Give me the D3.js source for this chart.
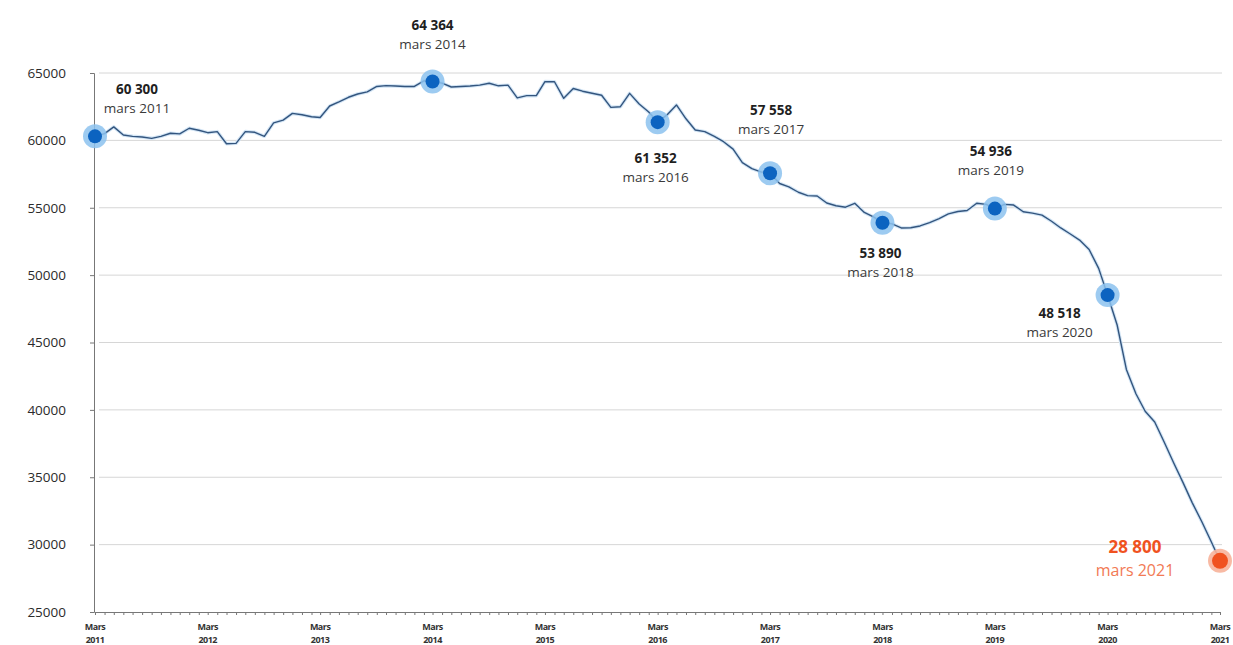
<!DOCTYPE html>
<html>
<head>
<meta charset="utf-8">
<script src="https://cdn.jsdelivr.net/npm/d3@7"></script>
<style>
  body { margin: 0; background: #fff; }
  .chart text { font-family: "Open Sans", "DejaVu Sans", sans-serif; }
</style>
</head>
<body>
<div class="chart"></div>
<script>
// Data: monthly values, mars 2011 -> mars 2021
var startYear = 2011;
var startMonth = 2; // mars
var values = [
  60300, 60500, 61000, 60400, 60300, 60250, 60150, 60300, 60530, 60480, 60900, 60750,
  60570, 60650, 59750, 59780, 60650, 60600, 60300, 61300, 61500, 62000, 61900, 61750,
  61700, 62550, 62850, 63200, 63440, 63600, 64000, 64060, 64030, 64000, 64000, 64420,
  64364, 64250, 63960, 64000, 64040, 64100, 64240, 64050, 64100, 63150, 63320, 63320,
  64360, 64350, 63120, 63850, 63650, 63500, 63350, 62450, 62500, 63490, 62700, 62100,
  61352, 61900, 62630, 61600, 60770, 60650, 60300, 59900, 59350, 58350, 57900, 57650,
  57558, 56800, 56550, 56150, 55900, 55870, 55350, 55150, 55040, 55330, 54650, 54300,
  53890, 53800, 53500, 53520, 53650, 53900, 54200, 54550, 54720, 54800, 55330, 55250,
  54936, 55250, 55200, 54700, 54600, 54450, 54000, 53500, 53050, 52600, 51900, 50500,
  48518, 46300, 43000, 41200, 39900, 39100, 37600, 36100, 34600, 33100, 31700, 30200,
  28800
];
var yTicks = [25000, 30000, 35000, 40000, 45000, 50000, 55000, 60000, 65000];
var xLabelYears = [2011, 2012, 2013, 2014, 2015, 2016, 2017, 2018, 2019, 2020, 2021];

// Highlighted points (index in values), with label text
var annotIndex = [0, 36, 60, 72, 84, 96, 108];
var annotNumber = ["60 300", "64 364", "61 352", "57 558", "53 890", "54 936", "48 518"];
var annotMonth = ["mars 2011", "mars 2014", "mars 2016", "mars 2017", "mars 2018", "mars 2019", "mars 2020"];
var lastNumber = "28 800";
var lastMonth = "mars 2021";

var data = values.map((v, i) => ({date: new Date(startYear, startMonth + i, 1), value: v}));

// Layout
var svgWidth = 1233, svgHeight = 645;
var x0 = 95, x1 = 1220, yTop = 73, yBottom = 612;

var svg = d3.select(".chart").append("svg")
  .attr("width", svgWidth)
  .attr("height", svgHeight);

var xScale = d3.scaleTime()
  .domain([data[0].date, data[data.length - 1].date])
  .range([x0, x1]);
var yScale = d3.scaleLinear()
  .domain([25000, 65000])
  .range([yBottom, yTop]);

// Gridlines
svg.append("g").selectAll("line")
  .data(yTicks.filter(t => t > 25000))
  .enter().append("line")
  .attr("x1", x0 + 4).attr("x2", x1 + 2)
  .attr("y1", d => yScale(d)).attr("y2", d => yScale(d))
  .attr("stroke", "#d6d6d6")
  .attr("stroke-width", 1);

// Y axis
var leftAxis = d3.axisLeft(yScale)
  .tickValues(yTicks)
  .tickFormat(d3.format("d"))
  .tickSize(4)
  .tickPadding(24);
var yAxisG = svg.append("g")
  .attr("transform", `translate(${x0 - 1},0)`)
  .call(leftAxis);
yAxisG.select(".domain").attr("stroke", "#777");
yAxisG.selectAll(".tick line").attr("stroke", "#777");
yAxisG.selectAll(".tick text")
  .attr("fill", "#2b2b2b")
  .style("font-size", "13.5px");

// X axis, one tick per month
var bottomAxis = d3.axisBottom(xScale)
  .ticks(d3.timeMonth.every(1))
  .tickSize(3)
  .tickSizeOuter(0)
  .tickFormat("");
var xAxisG = svg.append("g")
  .attr("transform", `translate(0,${yBottom})`)
  .call(bottomAxis);
xAxisG.select(".domain").attr("stroke", "#777");
xAxisG.selectAll(".tick line").attr("stroke", "#777");

// X labels at each March
var xLab = svg.append("g").selectAll("text")
  .data(xLabelYears)
  .enter().append("text")
  .attr("text-anchor", "middle")
  .attr("fill", "#333")
  .style("font-size", "9px")
  .style("font-weight", "bold")
  .style("letter-spacing", "-0.5px");
xLab.append("tspan")
  .attr("x", d => xScale(new Date(d, startMonth, 1)))
  .attr("y", 630)
  .text("Mars");
xLab.append("tspan")
  .attr("x", d => xScale(new Date(d, startMonth, 1)))
  .attr("y", 643)
  .text(d => d);

// Line
var line = d3.line()
  .x(d => xScale(d.date))
  .y(d => yScale(d.value));
svg.append("path")
  .datum(data)
  .attr("d", line)
  .attr("fill", "none")
  .attr("stroke", "#d3e5f5")
  .attr("stroke-width", 3.5)
  .attr("stroke-linejoin", "round");
svg.append("path")
  .datum(data)
  .attr("d", line)
  .attr("fill", "none")
  .attr("stroke", "#33557e")
  .attr("stroke-width", 1.4)
  .attr("stroke-linejoin", "round");

// Highlight dots
var annotData = annotIndex.map(i => data[i]);
svg.append("g").selectAll("circle")
  .data(annotData)
  .enter().append("circle")
  .attr("cx", d => xScale(d.date))
  .attr("cy", d => yScale(d.value))
  .attr("r", 12)
  .attr("fill", "#8cc2ee")
  .attr("opacity", 0.85);
svg.append("g").selectAll("circle")
  .data(annotData)
  .enter().append("circle")
  .attr("cx", d => xScale(d.date))
  .attr("cy", d => yScale(d.value))
  .attr("r", 7)
  .attr("fill", "#0c63c0");

var last = data[data.length - 1];
svg.append("circle")
  .attr("cx", xScale(last.date)).attr("cy", yScale(last.value))
  .attr("r", 12).attr("fill", "#f7b39a").attr("opacity", 0.9);
svg.append("circle")
  .attr("cx", xScale(last.date)).attr("cy", yScale(last.value))
  .attr("r", 8).attr("fill", "#f0521f");

// Annotation labels (offset from the dot)
var labelOffset = [[42, -42], [0, -52], [-2, 41], [1, -58], [-2, 35], [-4, -53], [-48, 23]];
var ann = svg.append("g").selectAll("g")
  .data(annotData)
  .enter().append("g")
  .attr("transform", (d, i) => `translate(${xScale(d.date) + labelOffset[i][0]},${yScale(d.value) + labelOffset[i][1]})`);
ann.append("text")
  .attr("text-anchor", "middle")
  .attr("fill", "#1f1f1f")
  .style("font-size", "13.5px")
  .style("font-weight", "bold")
  .text((d, i) => annotNumber[i]);
ann.append("text")
  .attr("text-anchor", "middle")
  .attr("y", 19)
  .attr("fill", "#3a3a3a")
  .style("font-size", "13.5px")
  .text((d, i) => annotMonth[i]);

svg.append("text")
  .attr("x", xScale(last.date) - 85).attr("y", yScale(last.value) - 8)
  .attr("text-anchor", "middle")
  .attr("fill", "#f0521f")
  .style("font-size", "17px")
  .style("font-weight", "bold")
  .text(lastNumber);
svg.append("text")
  .attr("x", xScale(last.date) - 85).attr("y", yScale(last.value) + 15)
  .attr("text-anchor", "middle")
  .attr("fill", "#f27a55")
  .style("font-size", "16px")
  .text(lastMonth);
</script>
</body>
</html>
